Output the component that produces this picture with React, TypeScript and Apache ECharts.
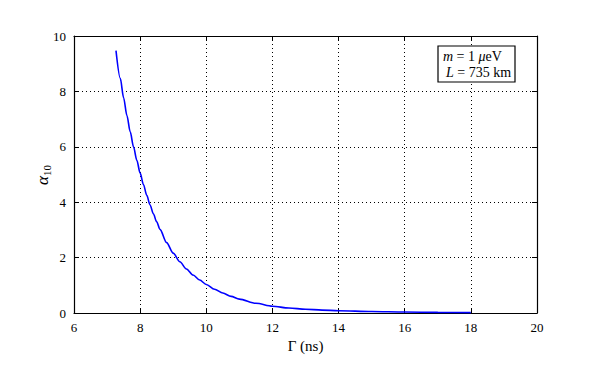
import React, { useEffect, useRef } from "react";
import * as echarts from "echarts";

const gammaNs = [7.27, 7.4, 7.5, 7.6, 7.7, 7.8, 7.9, 8.0, 8.1, 8.2, 8.3, 8.4, 8.5, 8.6, 8.8, 9.0, 9.2, 9.4, 9.6, 9.8, 10.0, 10.25, 10.5, 10.75, 11.0, 11.5, 12.0, 12.5, 13.0, 13.5, 14.0, 15.0, 16.0, 17.0, 18.0];
const alpha10 = [9.47, 8.47, 7.77, 7.13, 6.54, 6.0, 5.51, 5.05, 4.64, 4.25, 3.9, 3.58, 3.29, 3.02, 2.54, 2.16, 1.85, 1.59, 1.37, 1.19, 1.03, 0.86, 0.72, 0.6, 0.5, 0.35, 0.245, 0.18, 0.137, 0.105, 0.082, 0.052, 0.034, 0.022, 0.015];
const xTicks = [6, 8, 10, 12, 14, 16, 18, 20];
const yTicks = [0, 2, 4, 6, 8, 10];

const FONT = "Liberation Serif, DejaVu Serif, serif";

export default function App() {
  const ref = useRef<HTMLDivElement>(null);
  useEffect(() => {
    if (!ref.current) return;
    const chart = echarts.init(ref.current, null, { renderer: "svg" });
    const data = gammaNs.map((x, i) => [x, alpha10[i]]);
    const axisCommon = {
      axisLine: { show: true, onZero: false, lineStyle: { color: "#000", width: 1.2 } },
      axisTick: { show: true, inside: true, length: 5, lineStyle: { color: "#000" } },
    };
    chart.setOption({
      animation: false,
      backgroundColor: "#fff",
      grid: { left: 74, right: 59, top: 36, bottom: 55, show: false },
      xAxis: [
        {
          type: "value",
          min: xTicks[0],
          max: xTicks[xTicks.length - 1],
          interval: 2,
          position: "bottom",
          ...axisCommon,
          axisLabel: { color: "#000", fontFamily: FONT, fontSize: 13, margin: 8 },
          splitLine: { show: true, lineStyle: { color: "#000", type: [1, 3], width: 1 } },
          name: "Γ (ns)",
          nameLocation: "middle",
          nameGap: 21,
          nameTextStyle: { color: "#000", fontFamily: FONT, fontSize: 15 },
        },
        {
          type: "value",
          min: xTicks[0],
          max: xTicks[xTicks.length - 1],
          interval: 2,
          position: "top",
          ...axisCommon,
          axisLabel: { show: false },
          splitLine: { show: false },
        },
      ],
      yAxis: [
        {
          type: "value",
          min: yTicks[0],
          max: yTicks[yTicks.length - 1],
          interval: 2,
          position: "left",
          ...axisCommon,
          axisLabel: { color: "#000", fontFamily: FONT, fontSize: 13, margin: 8 },
          splitLine: { show: true, lineStyle: { color: "#000", type: [1, 3], width: 1 } },
        },
        {
          type: "value",
          min: yTicks[0],
          max: yTicks[yTicks.length - 1],
          interval: 2,
          position: "right",
          ...axisCommon,
          axisLabel: { show: false },
          splitLine: { show: false },
        },
      ],
      series: [
        {
          type: "line",
          data,
          showSymbol: false,
          smooth: 0.3,
          smoothMonotone: "x",
          lineStyle: { color: "#0000ff", width: 1.6 },
          xAxisIndex: 0,
          yAxisIndex: 0,
        },
      ],
      graphic: [
        {
          type: "text",
          x: 42,
          y: 175,
          rotation: Math.PI / 2,
          z: 101,
          style: {
            text: "{a|α}{s|10}",
            fill: "#000",
            align: "center",
            verticalAlign: "middle",
            font: `16px ${FONT}`,
            rich: {
              a: { fontFamily: FONT, fontSize: 17, fontStyle: "italic", lineHeight: 24, verticalAlign: "middle", fill: "#000" },
              s: { fontFamily: FONT, fontSize: 11, lineHeight: 24, verticalAlign: "bottom", fill: "#000", padding: [0, 0, 2, 0] },
            },
          },
        },
        {
          type: "rect",
          shape: { x: 438, y: 46, width: 77, height: 36 },
          style: { fill: "#fff", stroke: "#000", lineWidth: 1.2 },
          z: 100,
        },
        {
          type: "text",
          x: 443,
          y: 49,
          z: 101,
          style: {
            text: "{i|m} = 1 {i|μ}eV",
            fill: "#000",
            font: `14px ${FONT}`,
            rich: { i: { fontStyle: "italic", fontFamily: FONT, fontSize: 14 } },
          },
        },
        {
          type: "text",
          x: 446,
          y: 65,
          z: 101,
          style: {
            text: "{i|L} = 735 km",
            fill: "#000",
            font: `14px ${FONT}`,
            rich: { i: { fontStyle: "italic", fontFamily: FONT, fontSize: 14 } },
          },
        },
      ],
    });
    return () => chart.dispose();
  }, []);
  return <div ref={ref} style={{ width: 596, height: 368, position: "absolute", left: 0, top: 0 }} />;
}
